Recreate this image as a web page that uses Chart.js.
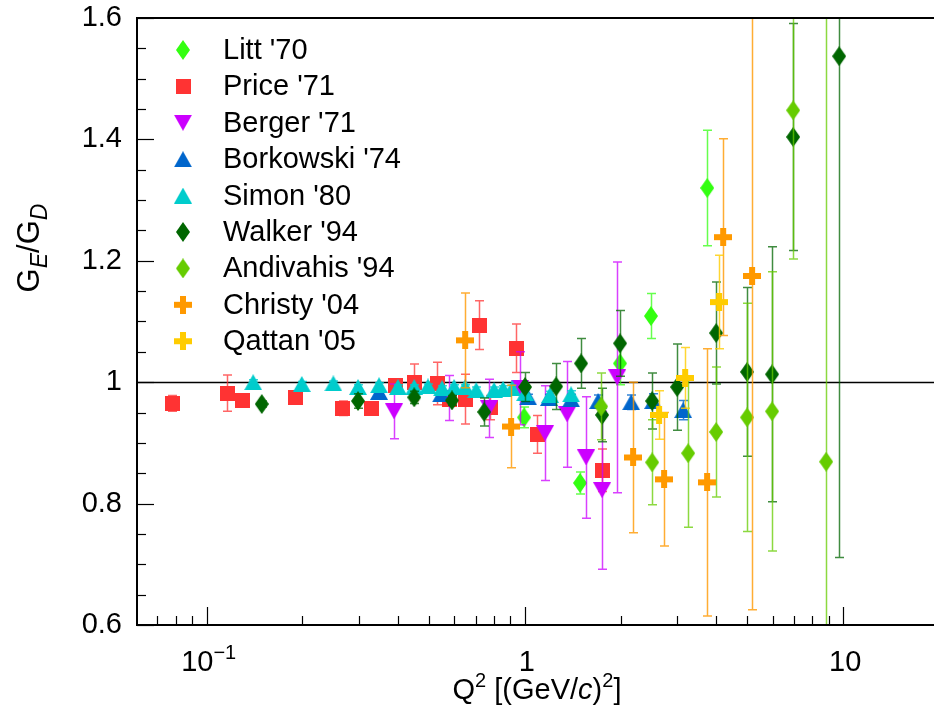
<!DOCTYPE html>
<html lang="en">
<head>
<meta charset="UTF-8">
<title>GE/GD vs Q2</title>
<script src="https://cdn.jsdelivr.net/npm/chart.js@4.4.0/dist/chart.umd.min.js"></script>
<style>
  html, body { margin: 0; padding: 0; background: #fff; }
</style>
</head>
<body>
<canvas id="myChart" width="934" height="726"></canvas>
<script>
// ---- data (Q^2 in (GeV/c)^2, GE/GD, error) ----
const littQ2 = [0.994, 1.49, 1.99, 2.49, 3.74];
const littR = [0.942, 0.834, 1.031, 1.109, 1.320];
const littErr = [0.017, 0.018, 0.035, 0.037, 0.095];

const priceQ2 = [0.078, 0.116, 0.130, 0.190, 0.268, 0.329, 0.391, 0.449, 0.530, 0.578, 0.649, 0.718, 0.777, 0.938, 1.092, 1.748];
const priceR = [0.965, 0.982, 0.970, 0.974, 0.957, 0.957, 0.995, 1.000, 0.998, 0.972, 0.972, 1.094, 0.958, 1.056, 0.914, 0.855];
const priceErr = [0.013, 0.030, 0.005, 0.005, 0.012, 0.005, 0.007, 0.030, 0.035, 0.010, 0.041, 0.040, 0.020, 0.040, 0.031, 0.035];

const bergerQ2 = [0.388, 0.578, 0.772, 0.966, 1.157, 1.357, 1.557, 1.748, 1.949];
const bergerR = [0.952, 0.974, 0.957, 0.990, 0.916, 0.947, 0.876, 0.822, 1.008];
const bergerErr = [0.045, 0.037, 0.048, 0.060, 0.078, 0.087, 0.100, 0.130, 0.190];

const borkQ2 = [0.348, 0.545, 1.024, 1.191, 1.397, 1.699, 2.157, 2.529, 3.143];
const borkR = [0.984, 0.980, 0.975, 0.974, 0.972, 0.969, 0.967, 0.969, 0.954];
const borkErr = [0.005, 0.005, 0.005, 0.006, 0.008, 0.010, 0.012, 0.012, 0.016];

const simonQ2 = [0.140, 0.199, 0.250, 0.299, 0.348, 0.399, 0.449, 0.496, 0.549, 0.599, 0.649, 0.703, 0.800, 0.854, 0.912, 1.002, 1.200, 1.397];
const simonR = [1.000, 0.997, 0.998, 0.992, 0.995, 0.992, 0.992, 0.993, 0.990, 0.992, 0.992, 0.987, 0.987, 0.989, 0.990, 0.982, 0.979, 0.980];
const simonErr = [0.004, 0.004, 0.004, 0.004, 0.004, 0.004, 0.004, 0.004, 0.004, 0.004, 0.004, 0.005, 0.005, 0.005, 0.005, 0.005, 0.006, 0.006];

const walkerQ2 = [0.149, 0.299, 0.449, 0.590, 0.745, 1.001, 1.253, 1.502, 1.748, 1.991, 2.511, 3.009, 3.990, 4.992, 5.981, 6.965, 9.716];
const walkerR = [0.964, 0.969, 0.975, 0.970, 0.951, 0.992, 0.993, 1.031, 0.946, 1.064, 0.969, 0.992, 1.081, 1.017, 1.013, 1.404, 1.537];
const walkerErr = [0.005, 0.012, 0.010, 0.008, 0.023, 0.024, 0.038, 0.041, 0.044, 0.054, 0.046, 0.071, 0.084, 0.139, 0.210, 0.187, 0.826];

const andiQ2 = [1.736, 2.511, 3.258, 3.990, 4.992, 5.981, 6.965, 8.845];
const andiR = [0.960, 0.868, 0.883, 0.918, 0.942, 0.952, 1.448, 0.869];
const andiErr = [0.055, 0.070, 0.122, 0.107, 0.188, 0.230, 0.245, 0.800];

const christyQ2 = [0.649, 0.905, 2.188, 2.738, 3.737, 4.197, 5.176];
const christyR = [1.069, 0.927, 0.876, 0.840, 0.835, 1.239, 1.175];
const christyErr = [0.078, 0.068, 0.124, 0.110, 0.220, 0.162, 0.550];

const qattanQ2 = [2.641, 3.188, 4.076];
const qattanR = [0.946, 1.007, 1.132];
const qattanErr = [0.040, 0.050, 0.077];

const yMajor = [0.6, 0.8, 1.0, 1.2, 1.4, 1.6];
const yLabels = ['0.6', '0.8', '1', '1.2', '1.4', '1.6'];

const FONT = "'Liberation Sans', Arial, Helvetica, sans-serif";

// marker images
function makeMarker(shape, color) {
    const c = document.createElement('canvas');
    let w = 16, h = 16;
    if (shape === 'diamond') { w = 14; h = 20; }
    if (shape === 'square') { w = 15; h = 15; }
    if (shape === 'tdown' || shape === 'tup') { w = 18; h = 16; }
    if (shape === 'cross') { w = 18; h = 18; }
    c.width = w; c.height = h;
    const g = c.getContext('2d');
    g.fillStyle = color;
    g.beginPath();
    if (shape === 'diamond') {
        g.moveTo(w / 2, 0); g.lineTo(w, h / 2); g.lineTo(w / 2, h); g.lineTo(0, h / 2);
    } else if (shape === 'square') {
        g.rect(0, 0, w, h);
    } else if (shape === 'tdown') {
        g.moveTo(0, 0); g.lineTo(w, 0); g.lineTo(w / 2, h);
    } else if (shape === 'tup') {
        g.moveTo(w / 2, 0); g.lineTo(w, h); g.lineTo(0, h);
    } else if (shape === 'cross') {
        const t = 6, a = (w - t) / 2;
        g.rect(a, 0, t, h); g.rect(0, a, w, t);
    }
    g.closePath();
    g.fill();
    return c;
}

function series(label, xs, ys, errs, shape, color, errColor, idx) {
    return {
        label: label,
        data: xs.map((x, i) => ({ x: x, y: ys[i] })),
        errs: errs,
        errColor: errColor,
        pointStyle: makeMarker(shape, color),
        backgroundColor: color,
        borderColor: color,
        showLine: false,
        order: 20 - idx,
    };
}

const datasets = [
    series("Litt '70", littQ2, littR, littErr, 'diamond', '#33ff11', 'rgba(51,255,17,0.75)', 0),
    series("Price '71", priceQ2, priceR, priceErr, 'square', '#ff3333', 'rgba(255,51,51,0.75)', 1),
    series("Berger '71", bergerQ2, bergerR, bergerErr, 'tdown', '#cc00ff', 'rgba(204,0,255,0.75)', 2),
    series("Borkowski '74", borkQ2, borkR, borkErr, 'tup', '#0066cc', 'rgba(0,102,204,0.8)', 3),
    series("Simon '80", simonQ2, simonR, simonErr, 'tup', '#00cccc', 'rgba(0,204,204,0.8)', 4),
    series("Walker '94", walkerQ2, walkerR, walkerErr, 'diamond', '#006600', 'rgba(0,102,0,0.75)', 5),
    series("Andivahis '94", andiQ2, andiR, andiErr, 'diamond', '#66cc00', 'rgba(102,204,0,0.75)', 6),
    series("Christy '04", christyQ2, christyR, christyErr, 'cross', '#ff9900', 'rgba(255,153,0,0.8)', 7),
    series("Qattan '05", qattanQ2, qattanR, qattanErr, 'cross', '#ffcc00', 'rgba(255,204,0,0.8)', 8),
];

// draw a list of text runs [text, font, dy]
function runsWidth(ctx, runs) {
    let w = 0;
    runs.forEach(r => { ctx.font = r[1]; w += ctx.measureText(r[0]).width; });
    return w;
}
function drawRuns(ctx, runs, x, y) {
    runs.forEach(r => {
        ctx.font = r[1];
        ctx.fillText(r[0], x, y + (r[2] || 0));
        x += ctx.measureText(r[0]).width;
    });
}

const errorBars = {
    id: 'errorBars',
    beforeDatasetDraw(chart, args) {
        const ds = chart.data.datasets[args.index];
        const a = chart.chartArea;
        const ctx = chart.ctx;
        const ys = chart.scales.y;
        ctx.save();
        ctx.beginPath();
        ctx.rect(a.left, a.top, a.right - a.left, a.bottom - a.top);
        ctx.clip();
        ctx.strokeStyle = ds.errColor;
        ctx.lineWidth = 1.5;
        args.meta.data.forEach((pt, i) => {
            const v = ds.data[i].y, e = ds.errs[i];
            const yT = ys.getPixelForValue(v + e), yB = ys.getPixelForValue(v - e);
            const x = Math.round(pt.x) + 0.5;
            ctx.beginPath();
            ctx.moveTo(x, yT); ctx.lineTo(x, yB);
            ctx.moveTo(x - 4.5, yT); ctx.lineTo(x + 4.5, yT);
            ctx.moveTo(x - 4.5, yB); ctx.lineTo(x + 4.5, yB);
            ctx.stroke();
        });
        ctx.restore();
    }
};

const frame = {
    id: 'frame',
    beforeDatasetsDraw(chart) {
        const ctx = chart.ctx, a = chart.chartArea, ys = chart.scales.y;
        const y1 = Math.round(ys.getPixelForValue(1)) + 0.5;
        ctx.save();
        ctx.strokeStyle = '#000';
        ctx.lineWidth = 1.3;
        ctx.beginPath(); ctx.moveTo(a.left, y1); ctx.lineTo(a.right, y1); ctx.stroke();
        ctx.restore();
    },
    afterDraw(chart) {
        const ctx = chart.ctx, a = chart.chartArea;
        const xs = chart.scales.x, ys = chart.scales.y;
        ctx.save();
        ctx.strokeStyle = '#000';
        ctx.fillStyle = '#000';
        // frame (no right edge, it lies past the canvas)
        ctx.lineWidth = 2;
        ctx.beginPath();
        ctx.moveTo(a.right + 2, a.top); ctx.lineTo(a.left, a.top); ctx.lineTo(a.left, a.bottom); ctx.lineTo(a.right + 2, a.bottom);
        ctx.stroke();
        // y ticks
        ctx.lineWidth = 1.2;
        for (let k = 0; k <= 20; k++) {
            const v = 0.6 + k * 0.05;
            const py = Math.round(ys.getPixelForValue(v)) + 0.5;
            const len = (k % 4 === 0) ? 17 : 9;
            ctx.beginPath(); ctx.moveTo(a.left, py); ctx.lineTo(a.left + len, py); ctx.stroke();
        }
        // x ticks
        for (let d = -2; d <= 1; d++) {
            for (let m = 1; m <= 9; m++) {
                const v = m * Math.pow(10, d);
                if (v < xs.min || v > xs.max) continue;
                const px = Math.round(xs.getPixelForValue(v)) + 0.5;
                const len = (m === 1) ? 18 : 9;
                ctx.beginPath(); ctx.moveTo(px, a.bottom); ctx.lineTo(px, a.bottom - len); ctx.stroke();
            }
        }
        // y labels
        ctx.font = '29px ' + FONT;
        ctx.textAlign = 'right';
        ctx.textBaseline = 'middle';
        yMajor.forEach((v, i) => ctx.fillText(yLabels[i], 122, ys.getPixelForValue(v)));
        // x labels
        ctx.textAlign = 'left';
        ctx.textBaseline = 'alphabetic';
        const big = '29px ' + FONT, small = '20px ' + FONT;
        const xl = [
            [0.1, [['10', big, 0], ['\u22121', small, -12]]],
            [1, [['1', big, 0]]],
            [10, [['10', big, 0]]],
        ];
        xl.forEach(t => {
            const w = runsWidth(ctx, t[1]);
            drawRuns(ctx, t[1], xs.getPixelForValue(t[0]) - w / 2 + 2, 671);
        });
        // x title
        const ital = 'italic 29px ' + FONT;
        const xt = [['Q', big, 0], ['2', small, -12], [' [(GeV/', big, 0], ['c', ital, 0], [')', big, 0], ['2', small, -12], [']', big, 0]];
        drawRuns(ctx, xt, 537 - runsWidth(ctx, xt) / 2, 699);
        // y title
        ctx.save();
        ctx.translate(39, 248);
        ctx.rotate(-Math.PI / 2);
        const bigT = '31px ' + FONT;
        const sub = 'italic 23px ' + FONT;
        const yt = [['G', bigT, 0], ['E', sub, 8], ['/G', bigT, 0], ['D', sub, 8]];
        drawRuns(ctx, yt, -runsWidth(ctx, yt) / 2, 0);
        ctx.restore();
        // legend
        ctx.font = '29px ' + FONT;
        ctx.textBaseline = 'middle';
        chart.data.datasets.forEach((ds, i) => {
            const ry = 50 + i * 36.4;
            const img = ds.pointStyle;
            ctx.drawImage(img, 183 - img.width / 2, ry - img.height / 2);
            ctx.fillText(ds.label, 223, ry + 1);
        });
        ctx.restore();
    }
};

const ctx = document.getElementById('myChart').getContext('2d');
const myChart = new Chart(ctx, {
    type: 'scatter',
    data: { datasets: datasets },
    options: {
        responsive: false,
        animation: false,
        devicePixelRatio: 1,
        layout: { autoPadding: false, padding: { top: 18, right: 0, left: 0, bottom: 0 } },
        plugins: { legend: { display: false }, tooltip: { enabled: false } },
        elements: { point: { radius: 8 } },
        scales: {
            x: {
                type: 'logarithmic',
                min: 0.0604,
                max: 19.3,
                ticks: { display: false },
                grid: { display: false },
                border: { display: false },
                afterFit(s) { s.height = 101; },
            },
            y: {
                type: 'linear',
                min: 0.6,
                max: 1.6,
                ticks: { display: false },
                grid: { display: false },
                border: { display: false },
                afterFit(s) { s.width = 137; },
            },
        },
    },
    plugins: [errorBars, frame],
});
</script>
</body>
</html>
